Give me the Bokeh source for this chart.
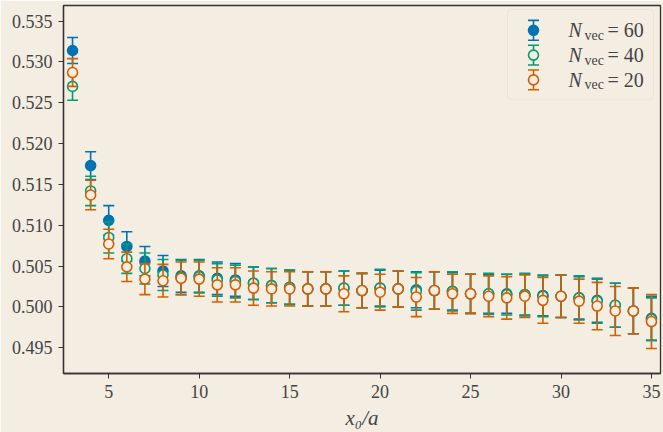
from bokeh.plotting import figure
from bokeh.models import ColumnDataSource, Label, BoxAnnotation, FixedTicker, PrintfTickFormatter
from bokeh.embed import file_html
from bokeh.resources import INLINE

# ---------------- data ----------------
x0_over_a = list(range(3, 36))

nvec60 = [0.5314, 0.5173, 0.5106, 0.5074, 0.5056, 0.5044, 0.5038, 0.5038, 0.5035, 0.5033,
          0.5029, 0.5026, 0.5024, 0.5022, 0.5022, 0.5023, 0.5020, 0.5023, 0.5022, 0.5021,
          0.5020, 0.5019, 0.5016, 0.5016, 0.5016, 0.5015, 0.5014, 0.5013, 0.5011, 0.5008,
          0.5002, 0.4995, 0.4986]
nvec60_err = [0.0016, 0.0017, 0.0018, 0.0018, 0.0018, 0.0019, 0.0020, 0.0020, 0.0020, 0.0020,
              0.0020, 0.0021, 0.0021, 0.0021, 0.0021, 0.0021, 0.0021, 0.0022, 0.0022, 0.0022,
              0.0023, 0.0023, 0.0024, 0.0024, 0.0024, 0.0025, 0.0025, 0.0026, 0.0026, 0.0027,
              0.0027, 0.0028, 0.0027]

nvec40 = [0.5270, 0.5142, 0.5085, 0.5059, 0.5047, 0.5039, 0.5036, 0.5037, 0.5033, 0.5031,
          0.5029, 0.5026, 0.5024, 0.5022, 0.5022, 0.5023, 0.5020, 0.5023, 0.5022, 0.5019,
          0.5020, 0.5019, 0.5016, 0.5016, 0.5015, 0.5015, 0.5013, 0.5013, 0.5011, 0.5007,
          0.5002, 0.4995, 0.4985]
nvec40_err = [0.0017, 0.0018, 0.0019, 0.0018, 0.0019, 0.0019, 0.0021, 0.0020, 0.0020, 0.0020,
              0.0020, 0.0021, 0.0021, 0.0021, 0.0021, 0.0021, 0.0021, 0.0023, 0.0022, 0.0023,
              0.0023, 0.0024, 0.0024, 0.0025, 0.0025, 0.0026, 0.0025, 0.0026, 0.0027, 0.0027,
              0.0027, 0.0028, 0.0026]

nvec20 = [0.5287, 0.5137, 0.5077, 0.5049, 0.5034, 0.5032, 0.5035, 0.5034, 0.5027, 0.5027,
          0.5023, 0.5022, 0.5022, 0.5022, 0.5022, 0.5016, 0.5020, 0.5018, 0.5022, 0.5012,
          0.5020, 0.5016, 0.5016, 0.5013, 0.5011, 0.5013, 0.5008, 0.5013, 0.5007, 0.5001,
          0.4995, 0.4995, 0.4982]
nvec20_err = [0.0017, 0.0018, 0.0018, 0.0018, 0.0019, 0.0020, 0.0020, 0.0021, 0.0021, 0.0021,
              0.0021, 0.0021, 0.0021, 0.0021, 0.0021, 0.0022, 0.0021, 0.0022, 0.0022, 0.0024,
              0.0023, 0.0024, 0.0024, 0.0025, 0.0026, 0.0026, 0.0028, 0.0026, 0.0027, 0.0029,
              0.0030, 0.0028, 0.0033]

series_labels = ["60", "40", "20"]
x_ticks = [5, 10, 15, 20, 25, 30, 35]
y_ticks = [0.495, 0.500, 0.505, 0.510, 0.515, 0.520, 0.525, 0.530, 0.535]

# ---------------- style ----------------
BG = "#f3ede2"
INK = "#333333"
TICKTXT = "#444444"
FONT = "Liberation Serif"
COLORS = ["#0173b2", "#029e73", "#d55e00"]
FILLED = [True, False, False]

W, H = 663, 432
FL, FT, FW, FH = 63, 5, 597, 371          # frame left/top/width/height in px
X_LO, X_HI = 2.5, 35.5
Y_LO, Y_HI = 0.49184, 0.53691


def dx(px):
    return X_LO + (px - FL) * (X_HI - X_LO) / FW


def dy(py):
    return Y_HI - (py - FT) * (Y_HI - Y_LO) / FH


p = figure(width=W, height=H, x_range=(X_LO, X_HI), y_range=(Y_LO, Y_HI),
           output_backend="svg", toolbar_location=None,
           min_border_left=FL, min_border_right=W - FL - FW, min_border_top=FT,
           min_border_bottom=H - FT - FH,
           background_fill_color=BG, border_fill_color=BG)
p.grid.visible = False
p.outline_line_color = INK
p.outline_line_width = 1.3

for ax in (p.xaxis[0], p.yaxis[0]):
    ax.axis_line_color = INK
    ax.axis_line_width = 1.3
    ax.major_tick_line_color = INK
    ax.major_tick_out = 5
    ax.major_tick_in = 0
    ax.minor_tick_line_color = None
    ax.major_label_text_font = FONT
    ax.major_label_text_font_size = "18px"
    ax.major_label_text_color = TICKTXT
    ax.major_label_standoff = 6

p.xaxis.ticker = FixedTicker(ticks=x_ticks)
p.yaxis.ticker = FixedTicker(ticks=y_ticks)
p.yaxis.formatter = PrintfTickFormatter(format="%.3f")
p.xaxis.axis_label = "x₀/a"
p.xaxis.axis_label_text_font = FONT
p.xaxis.axis_label_text_font_style = "italic"
p.xaxis.axis_label_text_font_size = "21px"
p.xaxis.axis_label_text_color = TICKTXT
p.xaxis.axis_label_standoff = 5

# ---------------- legend box (beneath everything) ----------------
p.add_layout(BoxAnnotation(left=dx(507), right=dx(653), top=dy(9), bottom=dy(100),
                           fill_color=BG, fill_alpha=0.85, line_color="#d6d1c8",
                           line_width=1, border_radius=4, level="underlay"))

# ---------------- data marks ----------------
all_series = [(nvec60, nvec60_err), (nvec40, nvec40_err), (nvec20, nvec20_err)]
for (vals, errs), col, filled in zip(all_series, COLORS, FILLED):
    src = ColumnDataSource(dict(
        x=x0_over_a, y=vals,
        lo=[v - e for v, e in zip(vals, errs)],
        hi=[v + e for v, e in zip(vals, errs)]))
    p.segment(x0="x", y0="lo", x1="x", y1="hi", source=src, line_color=col, line_width=1.6)
    p.scatter(x="x", y="lo", source=src, marker="dash", size=11, line_color=col, line_width=1.6)
    p.scatter(x="x", y="hi", source=src, marker="dash", size=11, line_color=col, line_width=1.6)
    p.scatter(x="x", y="y", source=src, marker="circle", size=10,
              line_color=col, line_width=1.6,
              fill_color=col if filled else BG)

# ---------------- legend entries (hand-built) ----------------
row_y = [30, 55, 80]
icon_x = 533
for ry, col, filled, lab in zip(row_y, COLORS, FILLED, series_labels):
    p.segment(x0=[dx(icon_x)], y0=[dy(ry - 10)], x1=[dx(icon_x)], y1=[dy(ry + 10)],
              line_color=col, line_width=1.6)
    p.scatter(x=[dx(icon_x), dx(icon_x)], y=[dy(ry - 10), dy(ry + 10)], marker="dash",
              size=11, line_color=col, line_width=1.6)
    p.scatter(x=[dx(icon_x)], y=[dy(ry)], marker="circle", size=10, line_color=col,
              line_width=1.6, fill_color=col if filled else BG)
    p.add_layout(Label(x=dx(568), y=dy(ry), text="N", text_font=FONT,
                       text_font_style="italic", text_font_size="20px",
                       text_color=TICKTXT, text_baseline="middle", text_align="left"))
    p.add_layout(Label(x=dx(584), y=dy(ry + 5), text="vec", text_font=FONT,
                       text_font_size="14px", text_color=TICKTXT,
                       text_baseline="middle", text_align="left"))
    p.add_layout(Label(x=dx(607), y=dy(ry), text="= " + lab, text_font=FONT,
                       text_font_size="20px", text_color=TICKTXT,
                       text_baseline="middle", text_align="left"))

open("out.html", "w").write(file_html(p, INLINE))
